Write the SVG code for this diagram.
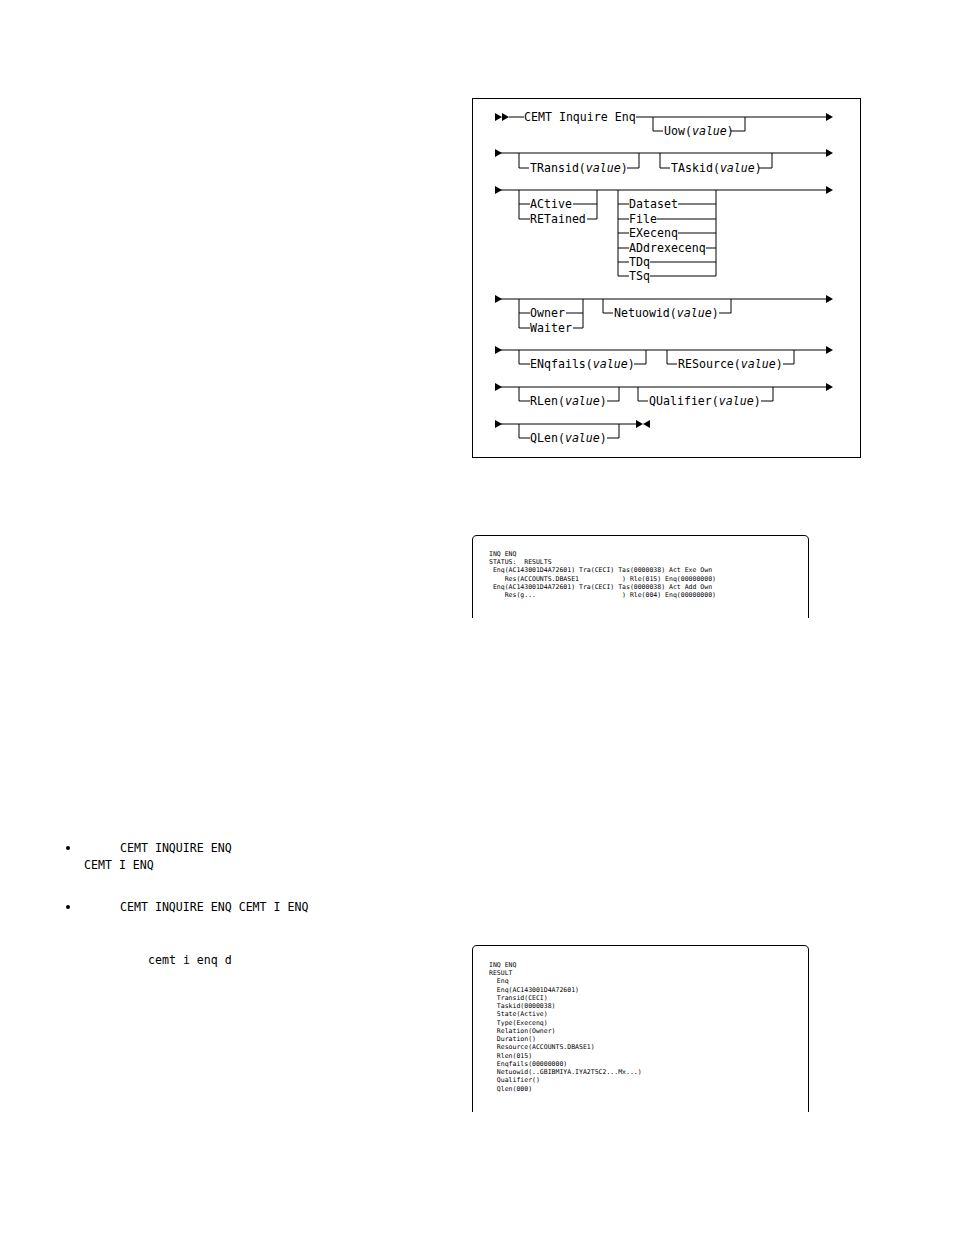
<svg xmlns="http://www.w3.org/2000/svg" width="954" height="1235" viewBox="0 0 954 1235">
<style>
.t{font-family:"DejaVu Sans Mono","Liberation Mono",monospace;font-size:11.6px;fill:#000}
.s{font-family:"DejaVu Sans Mono","Liberation Mono",monospace;font-size:6.5px;fill:#000}
.l{stroke:#000;stroke-width:1;fill:none}
.a{fill:#000}
</style>
<rect width="954" height="1235" fill="#fff"/>
<g id="syntax-box"><rect x="472.5" y="98.5" width="388" height="359" class="l"/></g>
<g id="connectors">
<path class="l" d="M509 117H524M636 117H826M653 117V131H663M731 131H745V117"/>
<path class="l" d="M495 153H826M519 153V168H529M627 168H639V153M660 153V168H670M759 168H772V153"/>
<path class="l" d="M495 190H826M519 190V219M519 204H530M573 204H597M519 219H530M587 219H597M597 190V219"/>
<path class="l" d="M618 190V276M716 190V276M618 204H629M678 204H716M618 219H629M657 219H716M618 233H629M678 233H716M618 248H629M706 248H716M618 262H629M650 262H716M618 276H629M650 276H716"/>
<path class="l" d="M495 299H826M519 299V328M519 313H530M566 313H583M519 328H530M573 328H583M583 299V328M603 299V313H613M719 313H731V299"/>
<path class="l" d="M495 350H826M519 350V364H530M634 364H646V350M667 350V364H677M783 364H794V350"/>
<path class="l" d="M495 387H826M519 387V401H530M607 401H619V387M638 387V401H648M761 401H773V387"/>
<path class="l" d="M495 424H636M519 424V438H530M607 438H619V424"/>
<path class="a" d="M495 113L502 117L495 121ZM502 113L509 117L502 121Z"/>
<path class="a" d="M826 113L833 117L826 121ZM495 149L502 153L495 157ZM826 149L833 153L826 157ZM495 186L502 190L495 194ZM826 186L833 190L826 194ZM495 295L502 299L495 303ZM826 295L833 299L826 303ZM495 346L502 350L495 354ZM826 346L833 350L826 354ZM495 383L502 387L495 391ZM826 383L833 387L826 391ZM495 420L502 424L495 428ZM636 420L643 424L636 428ZM650 420L643 424L650 428Z"/>
</g>
<g id="syntax-labels" class="t">
<text x="524" y="121">CEMT Inquire Enq</text>
<text x="664" y="135">Uow(<tspan font-style="italic">value</tspan>)</text>
<text x="530" y="172">TRansid(<tspan font-style="italic">value</tspan>)</text>
<text x="671" y="172">TAskid(<tspan font-style="italic">value</tspan>)</text>
<text x="530" y="208">ACtive</text>
<text x="530" y="223">RETained</text>
<text x="629" y="208">Dataset</text>
<text x="629" y="223">File</text>
<text x="629" y="237">EXecenq</text>
<text x="629" y="252">ADdrexecenq</text>
<text x="629" y="266">TDq</text>
<text x="629" y="280">TSq</text>
<text x="530" y="317">Owner</text>
<text x="530" y="332">Waiter</text>
<text x="614" y="317">Netuowid(<tspan font-style="italic">value</tspan>)</text>
<text x="530" y="368">ENqfails(<tspan font-style="italic">value</tspan>)</text>
<text x="678" y="368">RESource(<tspan font-style="italic">value</tspan>)</text>
<text x="530" y="405">RLen(<tspan font-style="italic">value</tspan>)</text>
<text x="649" y="405">QUalifier(<tspan font-style="italic">value</tspan>)</text>
<text x="530" y="442">QLen(<tspan font-style="italic">value</tspan>)</text>
</g>
<g id="screen1">
<path class="l" d="M472.5 618V540Q472.5 535.5 477 535.5H804Q808.5 535.5 808.5 540V618"/>
<text class="s" xml:space="preserve"><tspan x="489" y="556">INQ ENQ</tspan><tspan x="489" y="564">STATUS:  RESULTS</tspan><tspan x="489" y="572"> Enq(AC143001D4A72601) Tra(CECI) Tas(0000038) Act Exe Own</tspan><tspan x="489" y="581">    Res(ACCOUNTS.DBASE1           ) Rle(015) Enq(00000000)</tspan><tspan x="489" y="589"> Enq(AC143001D4A72601) Tra(CECI) Tas(0000038) Act Add Own</tspan><tspan x="489" y="597">    Res(g...                      ) Rle(004) Enq(00000000)</tspan></text>
</g>
<g id="screen2">
<path class="l" d="M472.5 1112V950Q472.5 945.5 477 945.5H804Q808.5 945.5 808.5 950V1112"/>
<text class="s" xml:space="preserve"><tspan x="489" y="967">INQ ENQ</tspan><tspan x="489" y="975">RESULT</tspan><tspan x="489" y="983">  Enq</tspan><tspan x="489" y="992">  Enq(AC143001D4A72601)</tspan><tspan x="489" y="1000">  Transid(CECI)</tspan><tspan x="489" y="1008">  Taskid(0000038)</tspan><tspan x="489" y="1016">  State(Active)</tspan><tspan x="489" y="1025">  Type(Execenq)</tspan><tspan x="489" y="1033">  Relation(Owner)</tspan><tspan x="489" y="1041">  Duration()</tspan><tspan x="489" y="1049">  Resource(ACCOUNTS.DBASE1)</tspan><tspan x="489" y="1058">  Rlen(015)</tspan><tspan x="489" y="1066">  Enqfails(00000000)</tspan><tspan x="489" y="1074">  Netuowid(..GBIBMIYA.IYA2T5C2...Mx...)</tspan><tspan x="489" y="1082">  Qualifier()</tspan><tspan x="489" y="1091">  Qlen(000)</tspan></text>
</g>
<g id="left-text" class="t">
<circle cx="68" cy="848" r="2" class="a"/>
<text x="120" y="852">CEMT INQUIRE ENQ</text>
<text x="84" y="869">CEMT I ENQ</text>
<circle cx="68" cy="907" r="2" class="a"/>
<text x="120" y="911">CEMT INQUIRE ENQ CEMT I ENQ</text>
<text x="148" y="964">cemt i enq d</text>
</g>
</svg>
